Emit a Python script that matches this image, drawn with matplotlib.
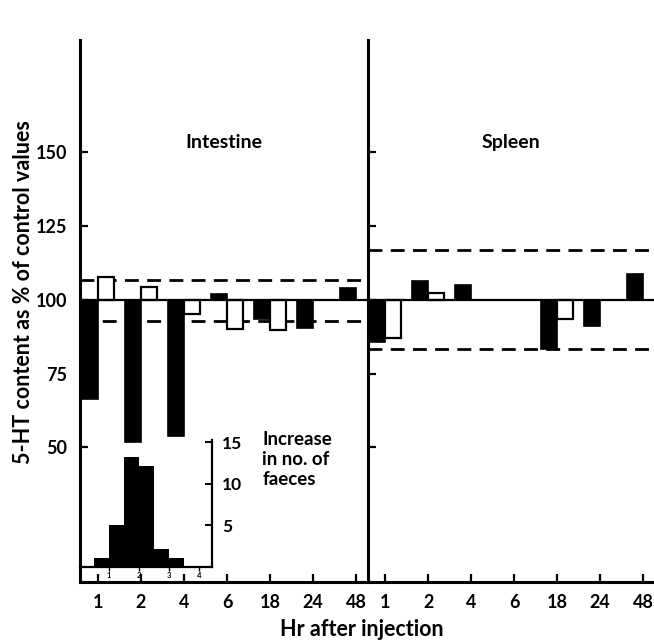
import numpy as np
import matplotlib
matplotlib.use("Agg")
import matplotlib.pyplot as plt

plt.rcParams['font.family'] = ['Lato', 'DejaVu Sans']
plt.rcParams['font.weight'] = 'bold'

# ---- data (% of control)
times = ['1', '2', '4', '6', '18', '24', '48']
intestine_black = [66.5, 52.0, 54.0, 102.0, 93.6, 90.5, 104.0]
intestine_white = [107.8, 104.4, 95.3, 90.2, 89.9, np.nan, np.nan]
spleen_black = [85.8, 106.4, 105.0, np.nan, 83.5, 91.0, 108.8]
spleen_white = [87.2, 102.4, np.nan, np.nan, 93.6, np.nan, np.nan]
intestine_limits = [92.9, 106.8]
spleen_limits = [83.4, 116.9]
yticks = [50, 75, 100, 125, 150]

# faeces inset (half-hour bins)
faeces_edges = [0.5, 1.0, 1.5, 2.0, 2.5, 3.0, 3.5]
faeces_counts = [1.1, 5.0, 13.2, 12.1, 2.2, 1.1]

W, H = 654, 642
fig = plt.figure(figsize=(W / 100, H / 100), dpi=100)

def px_box(x0, y0, x1, y1):
    return [x0 / W, 1 - y1 / H, (x1 - x0) / W, (y1 - y0) / H]

YLIM = (4.4, 188.1)
SPINE_LW = 2.2
BAR_W = 0.37

def panel(box, black, white, limits, centre0, show_ylabels):
    ax = fig.add_axes(box)
    x = centre0 + np.arange(len(times))
    b = np.array(black) - 100
    w = np.array(white) - 100
    ax.bar(x - BAR_W, b, width=BAR_W, bottom=100, align='edge',
           color='black', edgecolor='black', linewidth=1.2)
    ax.bar(x, w, width=BAR_W, bottom=100, align='edge',
           color='white', edgecolor='black', linewidth=1.6, zorder=3)
    ax.axhline(100, color='black', lw=1.6, zorder=4)
    for lim in limits:
        ax.axhline(lim, color='black', lw=2.0, ls=(0, (5, 3)), zorder=2)
    ax.set_ylim(*YLIM)
    ax.set_yticks(yticks)
    ax.set_xticks(x)
    ax.set_xticklabels(times)
    for s in ['top', 'right']:
        ax.spines[s].set_visible(False)
    for s in ['left', 'bottom']:
        ax.spines[s].set_linewidth(SPINE_LW)
    ax.tick_params(axis='both', direction='in', length=6, width=1.6,
                   labelsize=13, pad=9)
    if not show_ylabels:
        ax.set_yticklabels([])
    return ax

ax1 = panel(px_box(80, 40, 368, 582), intestine_black, intestine_white,
            intestine_limits, 0.42, True)
ax1.set_xlim(0, 288 / 43)
ax1.set_ylabel('5-HT content as % of control values', fontsize=15.5,
               fontweight='bold')
ax1.yaxis.set_label_coords(-0.16, 0.535)
ax1.set_title('Intestine', fontsize=14, fontweight='bold', y=0.785)

ax2 = panel(px_box(368, 40, 654, 582), spleen_black, spleen_white,
            spleen_limits, 0.40, False)
ax2.set_xlim(0, 286 / 43)
ax2.set_title('Spleen', fontsize=14, fontweight='bold', y=0.785)

fig.text(362 / W, 1 - 630 / H, 'Hr after injection', ha='center', va='center',
         fontsize=15.5, fontweight='bold')

# ---- inset: increase in number of faeces
axi = fig.add_axes(px_box(80, 440, 212, 567))
axi.patch.set_alpha(0)
axi.stairs(faeces_counts, faeces_edges, fill=True, color='black')
axi.set_xlim(0.03, 4.43)
axi.set_ylim(0, 15.25)
axi.yaxis.tick_right()
axi.set_yticks([5, 10, 15])
axi.set_xticks([1, 2, 3, 4])
for s in ['top', 'left']:
    axi.spines[s].set_visible(False)
axi.spines['right'].set_linewidth(1.6)
axi.spines['bottom'].set_linewidth(1.6)
axi.tick_params(axis='y', direction='in', length=5, width=1.4,
                labelsize=12.5, pad=7)
axi.tick_params(axis='x', direction='out', length=3, width=1.0,
                labelsize=5.5, pad=0.5)
axi.text(1.38, 1.07, 'Increase\nin no. of\nfaeces', transform=axi.transAxes,
         ha='left', va='top', fontsize=13.5, fontweight='bold',
         linespacing=1.2)

fig.savefig('out.png', dpi=100)
